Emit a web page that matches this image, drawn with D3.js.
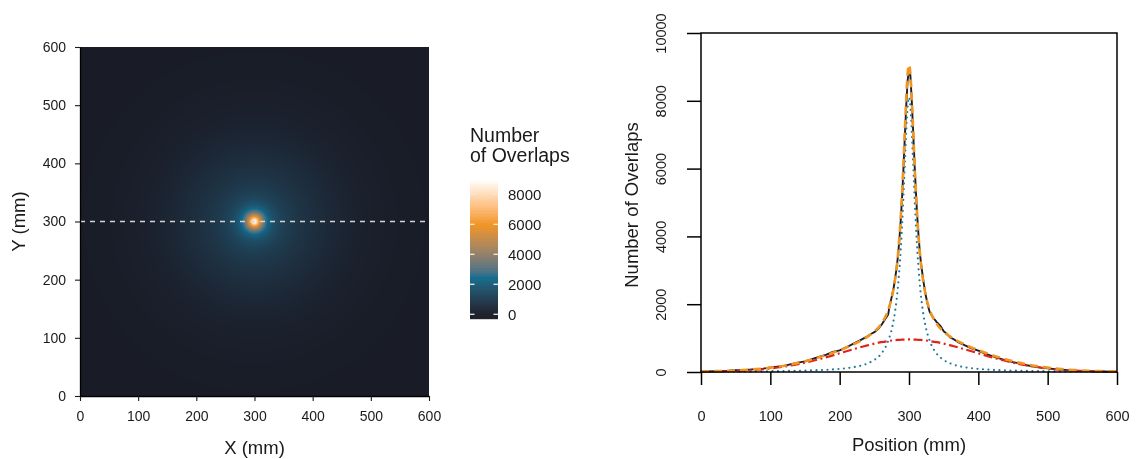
<!DOCTYPE html>
<html>
<head>
<meta charset="utf-8">
<script src="https://cdn.jsdelivr.net/npm/d3@7"></script>
<style>
body { margin: 0; background: #fff; }
#wrap { position: relative; width: 1137px; height: 459px; }
#heat { position: absolute; left: 80px; top: 47px; }
#chart { position: absolute; left: 0; top: 0; }
text { font-family: "Liberation Sans", Arial, sans-serif; fill: #1a1a1a; }
</style>
</head>
<body>
<div id="wrap"><canvas id="heat"></canvas><svg id="chart" width="1137" height="459"></svg></div>
<script>
// --- data ---
var mapTicks = [0, 100, 200, 300, 400, 500, 600];
var legendTicks = [0, 2000, 4000, 6000, 8000];
var profileTicksY = [0, 2000, 4000, 6000, 8000, 10000];
var centre = [300, 300];
var cutY = 300;

// radial profile of the map around the centre (mm -> overlaps)
var heatR = [0, 2, 4, 7, 10, 14, 18, 22, 26, 30, 35, 40, 50, 60, 70, 80, 90, 100, 120, 140, 160, 180, 200, 230, 260, 300, 350, 430];
var heatV = [8960, 8690, 7980, 6560, 5230, 3900, 3030, 2460, 2080, 1810, 1570, 1410, 1180, 1030, 910, 810, 730, 650, 500, 370, 270, 190, 130, 70, 38, 10, 3, 0];

// colour stops of the fill
var fillStops = [0, 2500, 6000, 9000];
var fillColors = ['#191c27', '#0f6b8d', '#f0931c', '#ffffff'];

// measured profile (black line)
var blackPos = [0, 10, 20, 30, 40, 50, 60, 70, 80, 90, 100, 110, 120, 130, 140, 150, 160, 170, 180, 190, 200, 210, 220, 230, 240,
    245, 250, 255, 260, 265, 270, 272, 274, 276, 278, 280, 282, 284, 286, 288, 290, 292, 294, 296, 298, 300,
    302, 304, 306, 308, 310, 312, 314, 316, 318, 320, 322, 324, 326, 328, 330, 335, 340, 345, 350, 355, 360, 365,
    370, 380, 390, 400, 410, 420, 430, 440, 450, 460, 470, 480, 490, 500, 510, 520, 530, 540, 550, 560, 570, 580, 590, 600];
var blackVals = [6, 14, 22, 31, 38, 50, 52, 71, 90, 98, 135, 160, 180, 232, 275, 312, 380, 445, 505, 590, 640, 730, 835, 940, 1050,
    1120, 1175, 1260, 1380, 1540, 1700, 1950, 2120, 2300, 2500, 2760, 3050, 3400, 3880, 4450, 5150, 6000, 6950, 7850, 8600, 8900,
    8750, 8000, 7100, 6150, 5300, 4550, 3950, 3450, 3100, 2800, 2520, 2280, 2080, 1900, 1760, 1600, 1470, 1370, 1200, 1120, 1010, 960,
    890, 790, 700, 630, 540, 470, 400, 345, 290, 250, 200, 160, 130, 110, 86, 70, 52, 40, 33, 26, 18, 13, 9, 5];

// fitted components
var fitPos = [0, 20, 40, 60, 80, 100, 120, 140, 160, 180, 200, 220, 240,
    250, 260, 270, 276, 280, 284, 288, 291, 294, 296, 298, 300,
    302, 304, 306, 309, 312, 316, 320, 324, 330, 340, 350, 360,
    380, 400, 420, 440, 460, 480, 500, 520, 540, 560, 580, 600];
var narrowVals = [10, 12, 14, 16, 19, 23, 28, 36, 48, 64, 92, 142, 250,
    355, 540, 915, 1340, 1800, 2500, 3590, 4740, 6160, 7110, 7830, 8100,
    7830, 7110, 6160, 4740, 3590, 2500, 1800, 1340, 915, 540, 355, 250,
    142, 92, 64, 48, 36, 28, 23, 19, 16, 14, 12, 10];
var broadVals = [6.5, 12.5, 23, 40, 66, 105, 159, 233, 324, 432, 552, 673, 786,
    836, 879, 913, 930, 939, 947, 952, 956, 958, 959, 960, 960,
    960, 959, 958, 956, 952, 947, 939, 930, 913, 879, 836, 786,
    673, 552, 432, 324, 233, 159, 105, 66, 40, 23, 12.5, 6.5];
var fitVals = [16.5, 24.5, 37, 56, 85, 128, 187, 269, 372, 496, 644, 815, 1036,
    1191, 1419, 1828, 2270, 2739, 3447, 4542, 5696, 7118, 8069, 8790, 9060,
    8790, 8069, 7118, 5696, 4542, 3447, 2739, 2270, 1828, 1419, 1191, 1036,
    815, 644, 496, 372, 269, 187, 128, 85, 56, 37, 24.5, 16.5];

var svg = d3.select('#chart');

// ---------------- left: map ----------------
var hx = d3.scaleLinear().domain([0, 600]).range([80, 429]);
var hy = d3.scaleLinear().domain([0, 600]).range([396, 47]);
var radial = d3.scaleLinear().domain(heatR).range(heatV).clamp(true);
var fill = d3.scaleLinear().domain(fillStops).range(fillColors)
    .interpolate(d3.interpolateLab).clamp(true);

var cw = Math.round(hx.range()[1] - hx.range()[0]);
var ch = Math.round(hy.range()[0] - hy.range()[1]);
var canvas = document.getElementById('heat');
canvas.width = cw;
canvas.height = ch;
var ctx = canvas.getContext('2d');
var img = ctx.createImageData(cw, ch);
var lut = d3.range(0, 9101, 10).map(function(v) { return d3.rgb(fill(v)); });
for (var j = 0; j < ch; j++) {
    for (var i = 0; i < cw; i++) {
        var mx = hx.invert(hx.range()[0] + i + 0.5);
        var my = hy.invert(hy.range()[1] + j + 0.5);
        var v = radial(Math.hypot(mx - centre[0], my - centre[1]));
        var c = lut[Math.min(lut.length - 1, Math.round(v / 10))];
        var k = (j * cw + i) * 4;
        img.data[k] = c.r; img.data[k + 1] = c.g; img.data[k + 2] = c.b; img.data[k + 3] = 255;
    }
}
ctx.putImageData(img, 0, 0);

// cut line
svg.append('line')
    .attr('x1', hx(0)).attr('x2', hx(600))
    .attr('y1', hy(cutY)).attr('y2', hy(cutY))
    .attr('stroke', '#d4d4d4')
    .attr('stroke-width', 1.5)
    .attr('stroke-dasharray', '5,5');

var gx = svg.append('g')
    .attr('transform', 'translate(0,' + hy(0) + ')')
    .call(d3.axisBottom(hx).tickValues(mapTicks).tickSize(5).tickPadding(10).tickSizeOuter(0));
var gy = svg.append('g')
    .attr('transform', 'translate(' + hx(0) + ',0)')
    .call(d3.axisLeft(hy).tickValues(mapTicks).tickSize(5).tickPadding(9).tickSizeOuter(0));
[gx, gy].forEach(function(g) {
    g.selectAll('text').style('font-size', '14px').attr('fill', '#1a1a1a');
    g.selectAll('line').attr('stroke', '#1a1a1a').attr('stroke-width', 1.1);
    g.select('.domain').attr('stroke', '#000').attr('stroke-width', 1.3);
    g.attr('font-family', null).attr('font-size', null);
});

svg.append('text')
    .attr('x', (hx(0) + hx(600)) / 2).attr('y', 454)
    .attr('text-anchor', 'middle')
    .style('font-size', '18.5px')
    .text('X (mm)');
svg.append('text')
    .attr('transform', 'translate(25,' + (hy(0) + hy(600)) / 2 + ') rotate(-90)')
    .attr('text-anchor', 'middle')
    .style('font-size', '18.5px')
    .text('Y (mm)');

// legend
var ly = d3.scaleLinear().domain([0, 8000]).range([314.3, 194.3]);
var leg = svg.append('g');
leg.append('text').attr('x', 470).attr('y', 142).style('font-size', '19.5px').text('Number');
leg.append('text').attr('x', 470).attr('y', 162).style('font-size', '19.5px').text('of Overlaps');
var barVals = d3.range(-300, 9020, 20);
leg.selectAll('rect.bin')
    .data(barVals)
    .enter()
    .append('rect')
    .attr('class', 'bin')
    .attr('x', 470)
    .attr('width', 28)
    .attr('y', function(d) { return ly(d + 20); })
    .attr('height', function(d) { return ly(d) - ly(d + 20) + 0.4; })
    .attr('fill', function(d) { return fill(Math.max(0, d + 10)); });
legendTicks.forEach(function(t) {
    [[470, 474.5], [493.5, 498]].forEach(function(s) {
        leg.append('line')
            .attr('x1', s[0]).attr('x2', s[1])
            .attr('y1', ly(t)).attr('y2', ly(t))
            .attr('stroke', '#ececec').attr('stroke-width', 1.3);
    });
    leg.append('text')
        .attr('x', 508).attr('y', ly(t)).attr('dy', '0.4em')
        .style('font-size', '15px')
        .text(t);
});

// ---------------- right: profile ----------------
var px = d3.scaleLinear().domain([0, 600]).range([701, 1117]);
var py = d3.scaleLinear().domain([0, 10000]).range([372, 33]);

function series(pos, vals) {
    return pos.map(function(p, i) { return [p, vals[i]]; });
}
var line = d3.line()
    .x(function(d) { return px(d[0]); })
    .y(function(d) { return py(d[1]); });

var plot = svg.append('g');
plot.append('path')
    .attr('d', line(series(blackPos, blackVals)))
    .attr('fill', 'none').attr('stroke', '#1b1e2b').attr('stroke-width', 1.9)
    .attr('stroke-linejoin', 'round');
plot.append('path')
    .attr('d', line.curve(d3.curveMonotoneX)(series(fitPos, narrowVals)))
    .attr('fill', 'none').attr('stroke', '#1f7a9e').attr('stroke-width', 2.2)
    .attr('stroke-linecap', 'round').attr('stroke-dasharray', '0,5.5');
plot.append('path')
    .attr('d', line(series(fitPos, broadVals)))
    .attr('fill', 'none').attr('stroke', '#e2231a').attr('stroke-width', 2.2)
    .attr('stroke-dasharray', '9,3.5,2,3.5');
plot.append('path')
    .attr('d', line(series(fitPos, fitVals)))
    .attr('fill', 'none').attr('stroke', '#f0961e').attr('stroke-width', 2.6)
    .attr('stroke-dasharray', '8,5');

svg.append('rect')
    .attr('x', px(0)).attr('y', py(10000))
    .attr('width', px(600) - px(0)).attr('height', py(0) - py(10000))
    .attr('fill', 'none').attr('stroke', '#000').attr('stroke-width', 1.5);

var ax = svg.append('g')
    .attr('transform', 'translate(0,' + py(0) + ')')
    .call(d3.axisBottom(px).tickValues(mapTicks).tickSize(13).tickPadding(26).tickSizeOuter(0));
var ay = svg.append('g')
    .attr('transform', 'translate(' + px(0) + ',0)')
    .call(d3.axisLeft(py).tickValues(profileTicksY).tickFormat(d3.format('d')).tickSize(14).tickSizeOuter(0));
[ax, ay].forEach(function(g) {
    g.select('.domain').remove();
    g.selectAll('line').attr('stroke', '#000').attr('stroke-width', 1.5);
    g.selectAll('text').style('font-size', '14.5px').attr('fill', '#1a1a1a');
    g.attr('font-family', null).attr('font-size', null);
});
ay.selectAll('text')
    .attr('x', null).attr('dy', null)
    .attr('text-anchor', 'middle')
    .attr('transform', 'translate(-35.5,0) rotate(-90)');

svg.append('text')
    .attr('x', (px(0) + px(600)) / 2).attr('y', 451)
    .attr('text-anchor', 'middle')
    .style('font-size', '18.5px')
    .text('Position (mm)');
svg.append('text')
    .attr('transform', 'translate(638,' + 205 + ') rotate(-90)')
    .attr('text-anchor', 'middle')
    .style('font-size', '18.5px')
    .text('Number of Overlaps');
</script>
</body>
</html>
